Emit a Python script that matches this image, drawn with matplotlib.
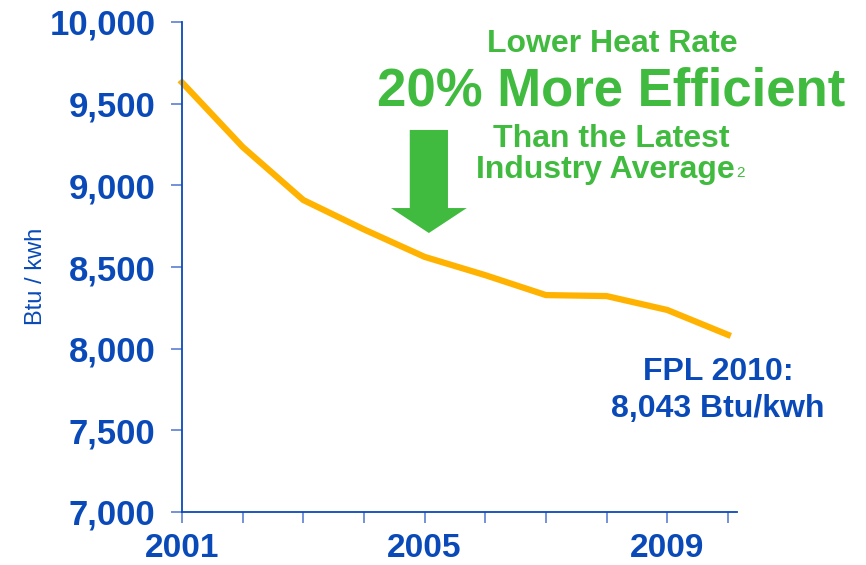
import matplotlib

matplotlib.use("Agg")
import matplotlib.pyplot as plt
from matplotlib.patches import FancyArrow

plt.rcParams["font.family"] = ["Liberation Sans", "DejaVu Sans"]

BLUE = "#0a4ab8"
TICK_BLUE = "#5b7fd0"
GREEN = "#41bb3f"
ORANGE = "#ffb300"

years = [2001, 2002, 2003, 2004, 2005, 2006, 2007, 2008, 2009, 2010]
heat_rate = [9630, 9235, 8910, 8730, 8562, 8450, 8328, 8322, 8237, 8085]
y_ticks = [7000, 7500, 8000, 8500, 9000, 9500, 10000]
x_labels = {2001: "2001", 2005: "2005", 2009: "2009"}

fig = plt.figure(figsize=(8.66, 5.65), dpi=100)
ax = fig.add_axes([182 / 866, 1 - 512 / 565, (737 - 182) / 866, (512 - 22) / 565])

ax.plot(years, heat_rate, color=ORANGE, lw=4.5, solid_joinstyle="miter", clip_on=False)

ax.set_xlim(2001, 2010.15)
ax.set_ylim(7000, 10000)
ax.set_yticks(y_ticks)
ax.set_yticklabels([f"{v:,}" for v in y_ticks])
ax.set_xticks(years)
ax.set_xticklabels([x_labels.get(y, "") for y in years])

for side in ("top", "right"):
    ax.spines[side].set_visible(False)
for side in ("left", "bottom"):
    ax.spines[side].set_color(BLUE)
    ax.spines[side].set_linewidth(1.3)

ax.tick_params(axis="both", direction="out", length=8, width=1.2, color=TICK_BLUE,
               labelcolor=BLUE)
ax.tick_params(axis="y", pad=11, labelsize=25)
ax.tick_params(axis="x", pad=7, labelsize=24)
for lab in ax.get_xticklabels() + ax.get_yticklabels():
    lab.set_fontweight("bold")

ax.set_ylabel("Btu / kwh", color=BLUE, fontsize=17)
ax.yaxis.set_label_coords(-0.243, 0.48)

# green down arrow
ax.add_patch(FancyArrow(2005.07, 9339, 0, -631, width=0.63, head_width=1.25,
                        head_length=153, length_includes_head=True,
                        color=GREEN, lw=0))


def fig_text(x, y, s, **kw):
    fig.text(x / 866, 1 - y / 565, s, ha="center", va="center", fontweight="bold", **kw)


fig_text(612, 44, "Lower Heat Rate", color=GREEN, fontsize=23)
fig_text(611, 92, "20% More Efficient", color=GREEN, fontsize=38)
fig_text(611, 139, "Than the Latest", color=GREEN, fontsize=23)
fig_text(605, 170, "Industry Average", color=GREEN, fontsize=23)
fig.text(736 / 866, 1 - 173 / 565, "2", color=GREEN, fontsize=11, ha="left", va="center")

fig_text(718, 372, "FPL 2010:", color=BLUE, fontsize=23)
fig_text(718, 409, "8,043 Btu/kwh", color=BLUE, fontsize=23)

fig.savefig("out.png", dpi=100)
